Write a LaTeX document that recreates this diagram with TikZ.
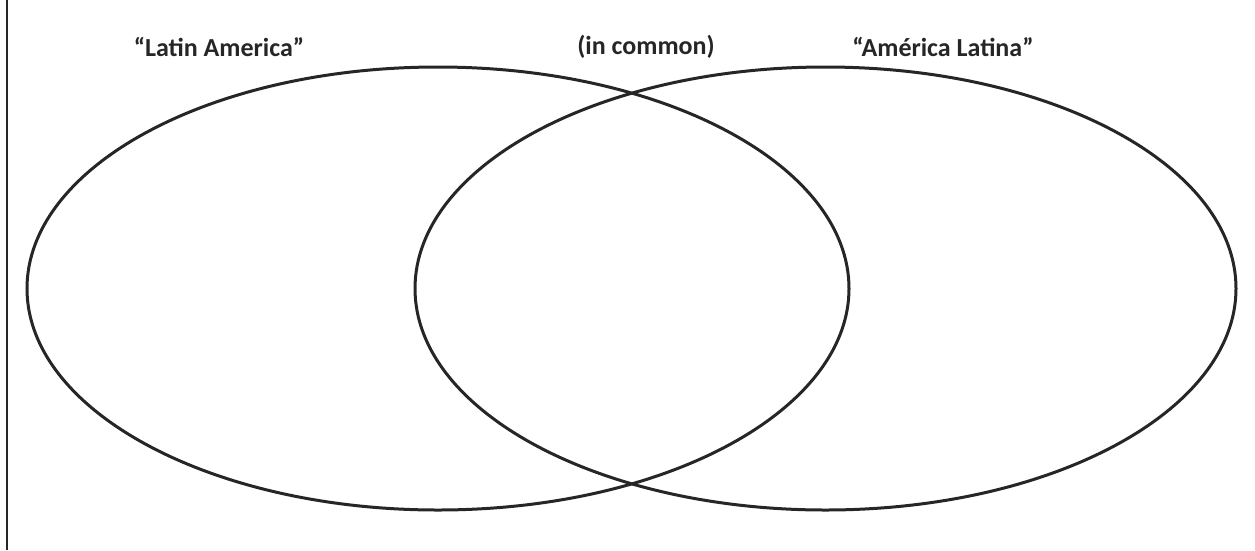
\documentclass[tikz,border=0pt]{standalone}
\usepackage{fontspec}
\setmainfont{Carlito}
\usetikzlibrary{positioning}

\begin{document}
\begin{tikzpicture}[
  x=1pt, y=-1pt,
  setline/.style = {line width=3pt, black!85},
  frame/.style   = {line width=2pt, black!85},
  tag/.style     = {font=\fontsize{26}{31}\selectfont\bfseries, text=black!85, inner sep=0pt}]

\useasboundingbox (0,0) rectangle (1255,550);

% left edge of the page frame
\coordinate (ftop) at (7,0);
\coordinate (fbot) at (7,550);
\draw[frame] (ftop) -- (fbot);

% the two sets
\draw[setline] (438,288.5)   ellipse [x radius=411,   y radius=221.5];
\draw[setline] (825.5,288.5) ellipse [x radius=410.5, y radius=221.5];

% headings above the sets
\node[tag] (latin)   at (219,47) {“Latin America”};
\node[tag] (common)  at (646,47) {(in common)};
\node[tag] (america) at (943,47) {“América Latina”};

\end{tikzpicture}
\end{document}
